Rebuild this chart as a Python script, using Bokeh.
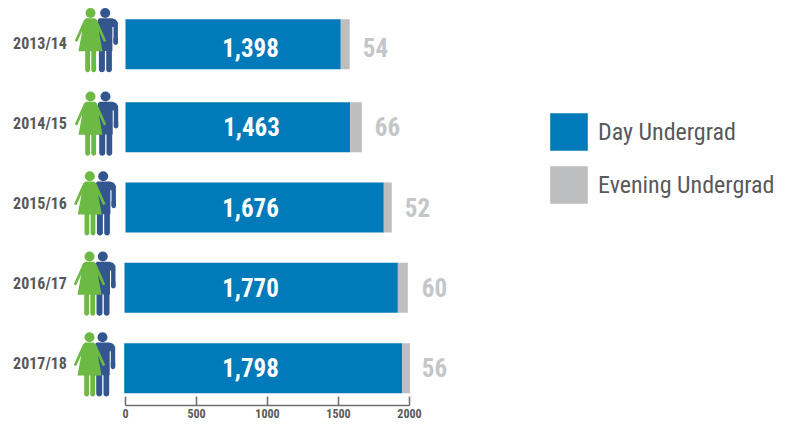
import numpy as np
from bokeh.plotting import figure
from bokeh.models import Range1d, FixedTicker, Legend, LegendItem, ColumnDataSource
from bokeh.core.properties import value
from bokeh.embed import file_html
from bokeh.resources import INLINE

# --- data ---
years = ["2013/14", "2014/15", "2015/16", "2016/17", "2017/18"]
day_labels = [1398, 1463, 1676, 1770, 1798]
evening_labels = [54, 66, 52, 60, 56]
# lengths of the bars as drawn in the picture, read against the axis
day_drawn = [1516, 1582, 1819, 1925, 1958]
evening_drawn = [63, 82, 56, 70, 54]
axis_ticks = [0, 500, 1000, 1500, 2000]

# --- layout (page pixels) ---
PX = 0.142                      # px per axis unit
X0 = 125.0                      # page x of axis zero
FRAME_H = 405
W, H = 781, 421
row_y = [43.7, 126.7, 207.0, 287.3, 367.7]
bar_left_px = [125.0, 125.0, 125.0, 124.0, 123.7]
year_y = [42.7, 122.7, 203.0, 283.3, 363.3]
value_x_px = [250, 251, 250, 250, 250]
value_y = [47, 126, 207, 287, 367]
evening_x_px = [375, 387, 417, 434, 434]
evening_y = [47, 126, 207, 287, 367]
female_x = [90, 90, 89.3, 89, 89]
male_x = [104.7, 105, 102.7, 102.3, 102]
head_y = [12.5, 96, 175.7, 256, 336.7]

FONT_NAME = "Roboto Condensed"
FONT = value(FONT_NAME)
BLUE, GREY, GREEN, NAVY = "#007ab8", "#bcbec0", "#6cb944", "#34568f"
TEXT = "#58595b"


def dx(px):
    return (np.asarray(px, dtype=float) - X0) / PX


p = figure(width=W, height=H, frame_width=W, frame_height=FRAME_H,
           output_backend="svg", toolbar_location=None,
           x_range=Range1d(dx(0), dx(W)), y_range=Range1d(FRAME_H, 0),
           y_axis_location=None, min_border=0, min_border_left=0, min_border_right=0,
           min_border_top=0, min_border_bottom=0)
p.outline_line_color = None
p.grid.visible = False
p.background_fill_color = "white"

# --- bars ---
left = dx(bar_left_px)
day_end = left + np.array(day_drawn)
eve_end = day_end + np.array(evening_drawn)
src = ColumnDataSource(dict(y=row_y, left=left, day_end=day_end, eve_end=eve_end))
r_day = p.hbar(y="y", left="left", right="day_end", height=50, source=src,
               fill_color=BLUE, line_color=None)
r_eve = p.hbar(y="y", left="day_end", right="eve_end", height=50, source=src,
               fill_color=GREY, line_color=None)


# --- people icons (shapes relative to the head centre, in px) ---
def leg(x0, x1, top, bot):
    r = (x1 - x0) / 2
    a = np.linspace(0, np.pi, 9)
    xs = [x0, x1] + list((x0 + x1) / 2 + r * np.cos(a))
    ys = [top, top] + list(bot - r + r * np.sin(a))
    return np.array(xs), np.array(ys)


MALE_BODY = (np.array([-6, 7, 10.5, 12.7, 12.7, 8.3, 8.3, 7.2, 7.2, -7.5, -7.5]),
             np.array([5.3, 5.3, 6.5, 9.5, 30, 30, 14, 14, 38, 38, 7]))
FEMALE_BODY = (np.array([-4.3, 4.3, 6.5, 15.7, 13.4, 8.3, 12, -12, -8.3, -13.4, -15.7, -6.5]),
               np.array([5.3, 5.3, 7, 27.7, 29, 18, 38.3, 38.3, 18, 29, 27.7, 7]))
shapes_f = [FEMALE_BODY, leg(-5.3, -0.5, 37, 59.3), leg(0.8, 5.6, 37, 59.3)]
shapes_m = [MALE_BODY, leg(-6.3, -0.3, 37, 59.3), leg(1, 6.7, 37, 59.3),
            leg(8.3, 12.7, 25, 32)]

for cx, cy in zip(male_x, head_y):
    p.patches([list(dx(cx + s[0])) for s in shapes_m], [list(cy + s[1]) for s in shapes_m],
              fill_color=NAVY, line_color=None)
p.ellipse(x=list(dx(male_x)), y=head_y, width=10 / PX, height=10, fill_color=NAVY, line_color=None)
for cx, cy in zip(female_x, head_y):
    p.patches([list(dx(cx + s[0])) for s in shapes_f], [list(cy + s[1]) for s in shapes_f],
              fill_color=GREEN, line_color=None)
p.ellipse(x=list(dx(female_x)), y=head_y, width=10 / PX, height=10, fill_color=GREEN, line_color=None)

# --- texts ---
p.text(x=list(dx([39.5] * 5)), y=year_y, text=years, text_font=FONT, text_font_style="bold",
       text_font_size="16px", text_color=TEXT, text_align="center", text_baseline="middle")
p.text(x=list(dx(value_x_px)), y=value_y, text=[f"{v:,}" for v in day_labels], text_font=FONT,
       text_font_style="bold", text_font_size="25px", text_color="white",
       text_align="center", text_baseline="middle")
p.text(x=list(dx(evening_x_px)), y=evening_y, text=[str(v) for v in evening_labels], text_font=FONT,
       text_font_style="bold", text_font_size="25px", text_color="#c4c6c8",
       text_align="center", text_baseline="middle")

# --- axis ---
ax = p.xaxis[0]
ax.ticker = FixedTicker(ticks=axis_ticks)
ax.bounds = (0, 2000)
ax.axis_line_color = "#6d6e71"
ax.axis_line_width = 1.5
ax.major_tick_line_color = "#6d6e71"
ax.major_tick_line_width = 1.5
ax.major_tick_in = 9
ax.major_tick_out = 0
ax.minor_tick_line_color = None
ax.major_label_standoff = 3
ax.major_label_text_font = FONT_NAME
ax.major_label_text_font_style = "bold"
ax.major_label_text_font_size = "12px"
ax.major_label_text_color = TEXT

# --- legend ---
legend = Legend(items=[LegendItem(label="Day Undergrad", renderers=[r_day]),
                       LegendItem(label="Evening Undergrad", renderers=[r_eve])],
                location=(545, 197), orientation="vertical",
                glyph_width=47, glyph_height=47, label_height=47,
                spacing=6, padding=0, margin=0, label_standoff=6,
                background_fill_alpha=0, border_line_color=None,
                label_text_font=FONT_NAME, label_text_font_size="24px",
                label_text_color=TEXT)
p.add_layout(legend)

open("out.html", "w").write(file_html(p, INLINE))
